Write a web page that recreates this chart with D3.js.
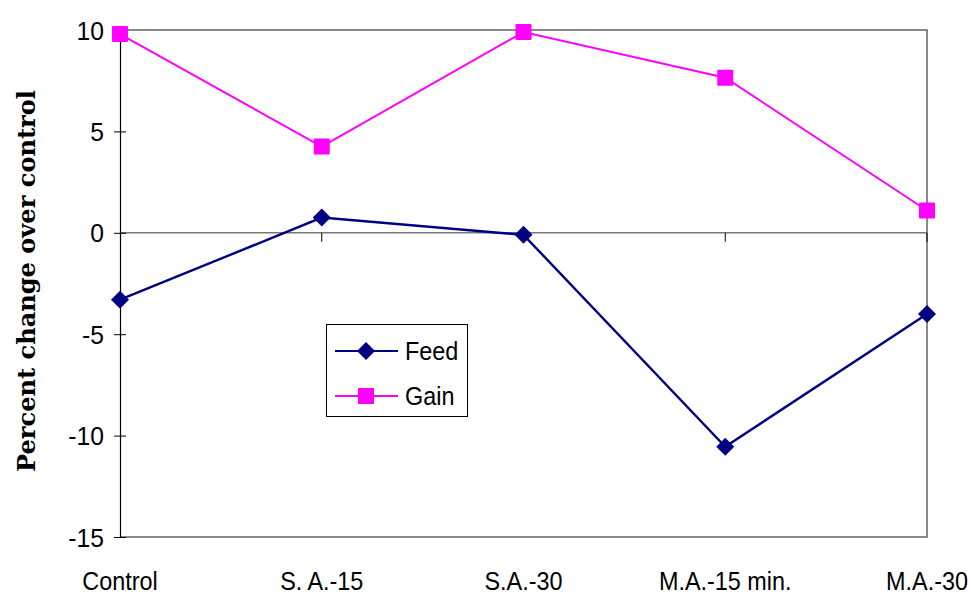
<!DOCTYPE html>
<html><head><meta charset="utf-8">
<script src="https://cdn.jsdelivr.net/npm/d3@7"></script>
<style>body{margin:0;background:#fff}svg{display:block}</style>
</head><body>
<svg id="c" width="973" height="594"></svg>
<script>
const categories = ["Control", "S. A.-15", "S.A.-30", "M.A.-15 min.", "M.A.-30"];
const feed = [-3.3, 0.75, -0.1, -10.55, -4.0];
const gain = [9.8, 4.25, 9.9, 7.65, 1.1];
const yTicks = [10, 5, 0, -5, -10, -15];

const svg = d3.select("#c");
const L = 120, R = 927, T = 30, B = 537;
const x = d3.scalePoint().domain(categories).range([L, R]).padding(0);
const y = d3.scaleLinear().domain([-15, 10]).range([B, T]);
const font = "Arial, 'Liberation Sans', sans-serif";

// frame (top/right/bottom gray)
svg.append("path").attr("d", `M${L},${T}H${R}V${B}H${L}`).attr("fill","none").attr("stroke","#888").attr("stroke-width",2);

// zero line
svg.append("line").attr("x1",L).attr("x2",R).attr("y1",y(0)).attr("y2",y(0)).attr("stroke","#777").attr("stroke-width",1.5);
// x ticks below zero line
svg.selectAll(".xt").data(categories.slice(1)).enter().append("line")
  .attr("x1",d=>x(d)).attr("x2",d=>x(d)).attr("y1",y(0)).attr("y2",y(0)+9).attr("stroke","#000").attr("stroke-width",1);

// y axis
const yAxis = d3.axisLeft(y).tickValues(yTicks).tickSize(6).tickSizeOuter(0).tickPadding(0).tickFormat(d=>String(d));
const ga = svg.append("g").attr("transform",`translate(${L},0)`).call(yAxis);
ga.select(".domain").attr("stroke","#000").attr("stroke-width",1.2);
ga.selectAll(".tick line").attr("stroke","#000").attr("x1",6).attr("x2",-6);
ga.selectAll(".tick text").attr("x",null).attr("dy",null)
  .attr("transform","translate(-16,9) scale(0.95,1)")
  .attr("font-family",font).attr("font-size",26).attr("fill","#000").attr("text-anchor","end");

// x labels
svg.selectAll(".xl").data(categories).enter().append("text")
  .attr("transform",d=>`translate(${x(d)},590) scale(0.9,1)`).attr("text-anchor","middle")
  .attr("font-family",font).attr("font-size",26).text(d=>d);

// y title
svg.append("text").attr("transform","translate(35,281) rotate(-90)").attr("text-anchor","middle")
  .attr("font-family","'DejaVu Serif','Liberation Serif',serif").attr("font-weight","bold").attr("font-size",24)
  .attr("textLength",382).attr("lengthAdjust","spacingAndGlyphs")
  .text("Percent change over control");

const line = d3.line().x((d,i)=>x(categories[i])).y(d=>y(d));
const feedColor = "#000080", gainColor = "#ff00ff";

svg.append("path").datum(feed).attr("d",line).attr("fill","none").attr("stroke",feedColor).attr("stroke-width",2.4);
svg.append("path").datum(gain).attr("d",line).attr("fill","none").attr("stroke",gainColor).attr("stroke-width",2);

const diamond = s => `M0,${-s}L${s},0L0,${s}L${-s},0Z`;
svg.selectAll(".fm").data(feed).enter().append("path")
  .attr("d",diamond(9)).attr("transform",(d,i)=>`translate(${x(categories[i])},${y(d)})`).attr("fill",feedColor);
svg.selectAll(".gm").data(gain).enter().append("rect")
  .attr("x",(d,i)=>x(categories[i])-8).attr("y",d=>y(d)-8).attr("width",16).attr("height",16).attr("rx",1).attr("fill",gainColor);

// legend
const lg = svg.append("g");
lg.append("rect").attr("x",326.5).attr("y",324.5).attr("width",141).attr("height",92).attr("fill","#fff").attr("stroke","#000").attr("stroke-width",1);
const items = [{n:"Feed",c:feedColor,t:"d",y:351},{n:"Gain",c:gainColor,t:"s",y:396}];
items.forEach(it=>{
  lg.append("line").attr("x1",335).attr("x2",398).attr("y1",it.y).attr("y2",it.y).attr("stroke",it.c).attr("stroke-width",2);
  if(it.t==="d") lg.append("path").attr("d",diamond(9)).attr("transform",`translate(366,${it.y})`).attr("fill",it.c);
  else lg.append("rect").attr("x",358).attr("y",it.y-8).attr("width",16).attr("height",16).attr("fill",it.c);
  lg.append("text").attr("transform",`translate(405,${it.y+9}) scale(0.9,1)`).attr("font-family",font).attr("font-size",26).text(it.n);
});
</script>
</body></html>
